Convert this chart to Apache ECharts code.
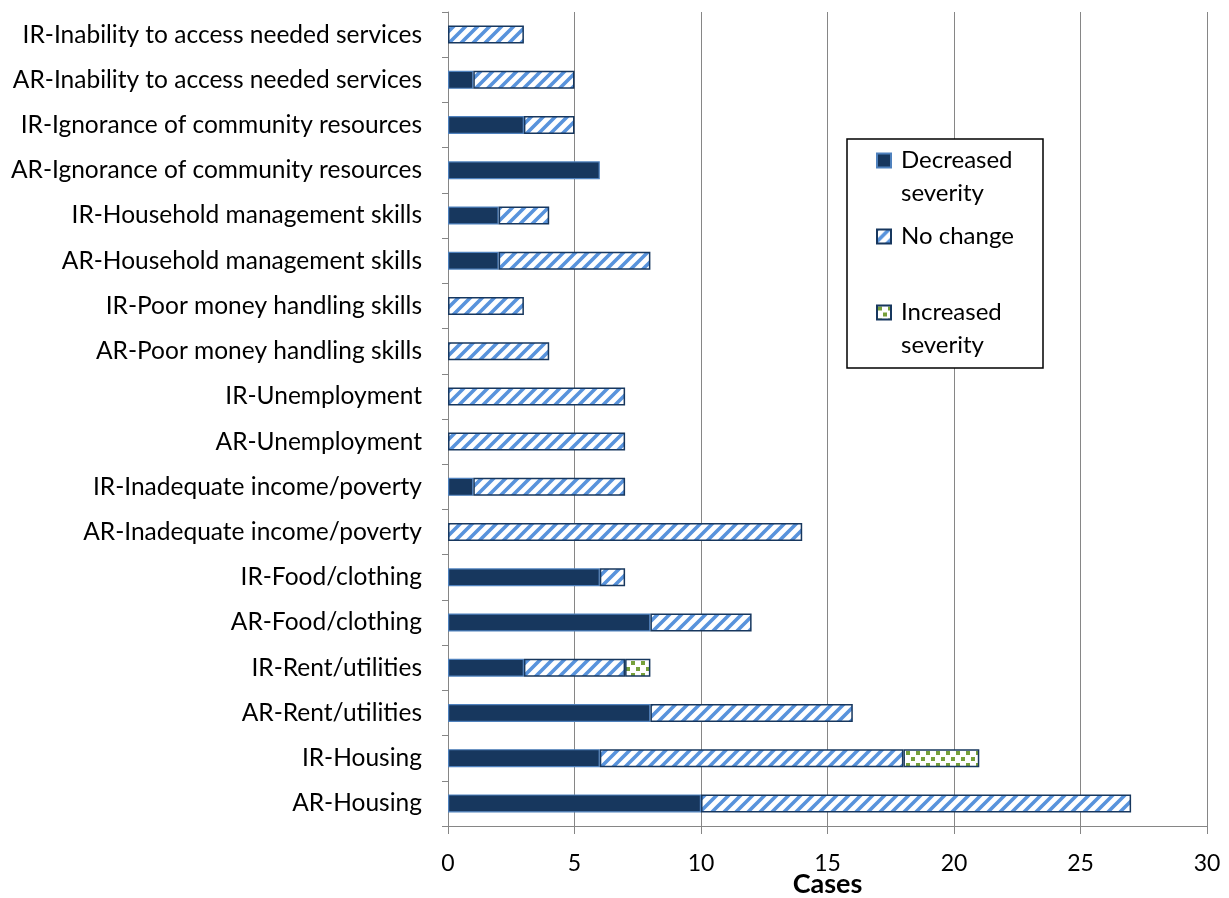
<!DOCTYPE html>
<html>
<head>
<meta charset="utf-8">
<script src="https://cdn.jsdelivr.net/npm/echarts@6/dist/echarts.min.js"></script>
<style>html,body{margin:0;padding:0;background:#fff;}#chart{width:1229px;height:898px;}</style>
</head>
<body>
<div id="chart"></div>
<script>
// Categories listed bottom -> top
const categories = [
  'AR-Housing', 'IR-Housing', 'AR-Rent/utilities', 'IR-Rent/utilities',
  'AR-Food/clothing', 'IR-Food/clothing', 'AR-Inadequate income/poverty',
  'IR-Inadequate income/poverty', 'AR-Unemployment', 'IR-Unemployment',
  'AR-Poor money handling skills', 'IR-Poor money handling skills',
  'AR-Household management skills', 'IR-Household management skills',
  'AR-Ignorance of community resources', 'IR-Ignorance of community resources',
  'AR-Inability to access needed services', 'IR-Inability to access needed services'
];
const decreased = [10, 6, 8, 3, 8, 6, 0, 1, 0, 0, 0, 0, 2, 2, 6, 3, 1, 0];
const noChange  = [17, 12, 8, 4, 4, 1, 14, 6, 7, 7, 4, 3, 6, 2, 0, 2, 4, 3];
const increased = [0, 3, 0, 1, 0, 0, 0, 0, 0, 0, 0, 0, 0, 0, 0, 0, 0, 0];
const seriesNames = ['Decreased severity', 'No change', 'Increased severity'];
const legendLabels = {
  'Decreased severity': ' \nDecreased\nseverity',
  'No change': ' \nNo change\n ',
  'Increased severity': ' \nIncreased\nseverity'
};
const xTicks = { min: 0, max: 30, interval: 5 };

const FONT = 'Lato';

function stripePattern() {
  const c = document.createElement('canvas');
  c.width = 12; c.height = 12;
  const g = c.getContext('2d');
  g.fillStyle = '#ffffff'; g.fillRect(0, 0, 12, 12);
  g.strokeStyle = '#5893dc'; g.lineWidth = 3.6;
  g.beginPath();
  g.moveTo(-3, 15); g.lineTo(15, -3);
  g.moveTo(-3, 3); g.lineTo(3, -3);
  g.moveTo(9, 15); g.lineTo(15, 9);
  g.stroke();
  return c;
}
function dotPattern() {
  const c = document.createElement('canvas');
  c.width = 10; c.height = 12;
  const g = c.getContext('2d');
  g.fillStyle = '#ffffff'; g.fillRect(0, 0, 10, 12);
  g.fillStyle = '#76a03a';
  g.fillRect(1, 1, 4, 4);
  g.fillRect(6, 7, 4, 4);
  return c;
}
const nz = arr => arr.map(v => (v === 0 ? '-' : v));

const chart = echarts.init(document.getElementById('chart'), null, { renderer: 'canvas' });
chart.setOption({
  animation: false,
  backgroundColor: '#ffffff',
  grid: { left: 448, right: 22, top: 12, bottom: 72, containLabel: false, outerBoundsMode: 'none' },
  xAxis: {
    type: 'value', min: xTicks.min, max: xTicks.max, interval: xTicks.interval,
    name: 'Cases', nameLocation: 'middle', nameGap: 45, nameMoveOverlap: false,
    nameTextStyle: { fontFamily: FONT, fontSize: 27, fontWeight: 'bold', color: '#000' },
    axisLine: { show: true, lineStyle: { color: '#868686', width: 1 } },
    axisTick: { show: true, length: 8, lineStyle: { color: '#868686' } },
    axisLabel: { fontFamily: FONT, fontSize: 23, color: '#000', margin: 26 },
    splitLine: { show: true, lineStyle: { color: '#868686', width: 1 } }
  },
  yAxis: {
    type: 'category', data: categories,
    axisLine: { show: true, lineStyle: { color: '#868686', width: 1 } },
    axisTick: { show: true, length: 6, lineStyle: { color: '#868686' } },
    axisLabel: { fontFamily: FONT, fontSize: 24.5, color: '#000', margin: 26 }
  },
  legend: {
    orient: 'vertical', left: 876, top: 111, padding: 0,
    itemWidth: 14, itemHeight: 14, itemGap: -23, icon: 'rect',
    data: seriesNames,
    formatter: n => legendLabels[n],
    textStyle: { fontFamily: FONT, fontSize: 24, lineHeight: 33, color: '#000', padding: [0, 0, 0, 5] }
  },
  graphic: [{
    type: 'rect', z: 3,
    shape: { x: 847, y: 139, width: 196, height: 229 },
    style: { fill: '#ffffff', stroke: '#000000', lineWidth: 1.5 }
  }],
  series: [
    {
      name: seriesNames[0], type: 'bar', stack: 'total', barWidth: 18,
      data: nz(decreased),
      itemStyle: { color: '#17375e', borderColor: '#4f81bd', borderWidth: 1.2 }
    },
    {
      name: seriesNames[1], type: 'bar', stack: 'total', barWidth: 18,
      data: nz(noChange),
      itemStyle: { color: { image: stripePattern(), repeat: 'repeat' }, borderColor: '#17375e', borderWidth: 1.5 }
    },
    {
      name: seriesNames[2], type: 'bar', stack: 'total', barWidth: 18,
      data: nz(increased),
      itemStyle: { color: { image: dotPattern(), repeat: 'repeat' }, borderColor: '#17375e', borderWidth: 1.5 }
    }
  ]
});
</script>
</body>
</html>
